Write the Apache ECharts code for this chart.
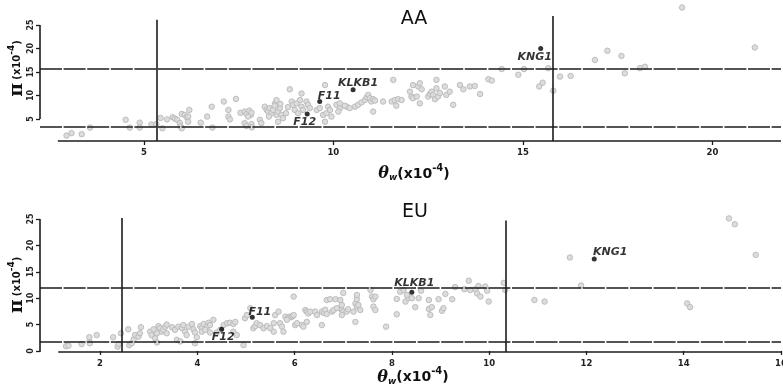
<!DOCTYPE html>
<html>
<head>
<meta charset="utf-8">
<script src="https://cdn.jsdelivr.net/npm/echarts@6/dist/echarts.min.js"></script>
<style>
  html, body { margin: 0; padding: 0; background: #fff; }
  #chart { width: 783px; height: 386px; }
</style>
</head>
<body>
<div id="chart"></div>
<script>
// AA: [theta_w, pi] (x10^-4) for background genes
const aaPoints = [
  [2.96,1.45],[3.09,1.96],[3.36,1.74],[3.58,3.15],[4.52,4.8],[4.63,3.15],[4.89,4.2],[4.89,3.15],
  [5.2,3.8],[5.33,3.9],[5.44,5.2],[5.49,3.0],[5.61,4.9],[5.76,5.36],[5.82,5.06],[5.88,4.8],
  [5.95,4.1],[5.97,3.4],[6.0,3.0],[6.0,6.06],[6.08,5.85],[6.13,5.36],[6.17,5.5],[6.17,4.4],
  [6.2,6.9],[6.5,4.2],[6.67,5.5],[6.79,7.6],[6.81,3.15],[7.11,8.7],[7.23,6.9],[7.23,5.5],
  [7.27,4.9],[7.43,9.25],[7.55,6.3],[7.66,6.55],[7.71,6.06],[7.78,6.77],[7.82,5.85],[7.84,6.3],
  [7.75,5.5],[7.66,4.1],[7.71,3.5],[7.84,3.9],[7.85,3.2],
  [8.06,4.8],[8.1,4.1],[8.19,7.6],[8.24,6.9],[8.28,6.55],[8.32,7.3],[8.37,6.2],[8.41,6.9],
  [8.46,8.3],[8.5,9.0],[8.5,5.85],[8.54,6.55],[8.59,7.3],[8.63,5.85],[8.67,5.15],[8.54,4.4],
  [8.3,5.5],[8.45,7.8],[8.6,8.2],[8.75,6.2],[8.8,7.5],
  [8.85,11.3],[8.9,8.7],[8.94,8.0],[8.98,6.9],[9.03,8.3],[9.12,9.0],[9.16,7.6],[9.2,6.9],
  [9.07,6.2],[9.16,10.4],[9.29,8.7],[9.33,8.0],[9.38,7.3],[9.56,6.9],[9.64,7.3],[9.78,12.2],
  [9.73,5.85],[9.82,6.2],[9.86,7.6],[9.91,6.9],[9.95,5.5],[9.78,4.4],[10.08,8.0],[10.17,7.3],
  [10.13,6.55],[10.35,7.6],
  [10.17,8.3],[10.3,7.8],[10.43,7.3],[10.57,7.6],[10.65,8.0],[10.74,8.5],[10.83,9.0],[10.88,9.6],
  [10.92,10.1],[10.96,9.4],[11.0,8.7],[11.05,9.2],[11.1,8.9],[11.05,6.55],[11.31,8.7],[11.58,13.3],
  [11.54,8.7],[11.62,9.0],[11.71,9.2],[11.8,9.0],[11.66,7.8],[12.02,10.8],[12.1,12.2],[12.24,11.9],
  [12.28,12.6],[12.33,11.3],[12.06,9.75],[12.1,9.4],[12.2,9.75],[12.28,8.3],[12.5,9.75],[12.55,10.3],
  [12.59,10.8],[12.63,10.1],[12.68,9.2],[12.72,13.3],[12.72,11.5],[12.76,9.75],[12.81,10.5],[12.94,11.9],
  [12.98,10.1],[13.07,10.8],[13.16,8.0],[13.34,12.2],[13.43,11.3],[13.6,11.9],[13.73,12.0],[13.87,10.3],
  [14.09,13.45],[14.18,13.15],[14.44,15.6],[14.88,14.4],
  [15.03,15.6],[15.43,11.9],[15.52,12.7],[15.67,15.8],[15.8,11.0],[15.98,14.0],[16.26,14.15],
  [16.9,17.55],[17.23,19.5],[17.6,18.4],[17.69,14.7],[18.09,15.8],[18.22,16.1],[19.2,28.7],[21.12,20.2]
];

// EU: [theta_w, pi] (x10^-4) for background genes
const euPoints = [
  [1.3,0.9],[1.35,1.0],[1.62,1.3],[1.78,1.8],[1.78,2.6],[1.79,1.45],[1.93,3.0],[2.27,2.6],
  [2.36,0.8],[2.38,1.3],[2.43,3.35],[2.58,4.1],[2.6,1.1],[2.65,1.45],[2.69,2.2],[2.72,3.0],
  [2.84,4.5],[2.79,2.7],[2.82,3.35],[3.03,3.65],[3.06,3.0],[3.1,4.1],[3.13,2.4],[3.17,3.35],
  [3.17,1.6],[3.2,4.7],[3.23,4.3],[3.27,3.65],[3.3,4.0],[3.34,4.6],[3.37,5.0],[3.37,3.35],
  [3.48,4.5],[3.54,4.0],[3.61,4.6],[3.58,2.1],[3.65,1.8],[3.68,4.35],[3.71,4.9],[3.75,3.65],
  [3.78,3.0],[3.82,4.6],[3.89,5.1],[3.92,4.1],[3.95,3.5],[3.99,2.6],[3.95,1.45],[4.06,4.7],
  [4.09,4.3],[4.13,5.1],[4.2,4.6],[4.23,5.35],[4.26,4.9],[4.33,5.9],[4.09,3.65],[4.16,4.0],
  [4.26,3.5],[4.4,3.5],[4.47,4.0],[4.54,4.9],[4.61,5.25],[4.67,5.35],[4.74,5.1],[4.78,5.5],
  [4.74,3.65],[4.81,3.0],[4.95,1.1],[4.98,6.2],[5.02,6.8],[5.09,8.1],[5.15,4.3],[5.19,4.7],
  [5.22,5.25],
  [5.29,4.9],[5.36,4.3],[5.43,4.7],[5.5,4.3],[5.57,5.25],[5.57,3.65],[5.6,6.8],[5.67,7.45],
  [5.7,5.25],[5.74,4.6],[5.77,3.65],[5.81,6.5],[5.86,6.2],[5.9,6.5],[5.93,6.4],[5.96,6.6],
  [5.98,6.8],[5.84,5.9],[5.98,10.3],[6.01,4.9],[6.05,5.25],[6.15,4.9],[6.18,4.6],[6.25,5.5],
  [6.22,7.75],[6.25,7.45],[6.28,7.1],[6.32,7.45],[6.42,7.45],[6.46,6.8],[6.56,4.9],[6.56,7.45],
  [6.6,7.2],[6.63,7.8],[6.66,7.0],[6.66,9.65],[6.73,9.8],[6.84,9.8],[6.94,9.65],[6.77,7.45],
  [6.8,7.75],[6.87,8.1],[6.97,7.75],[7.0,7.45],[6.97,6.8],[7.07,7.45],[7.1,7.9],[7.21,7.45],
  [6.97,8.7],[7.0,11.0],[7.25,9.0],[7.28,8.4],[7.31,8.7],[7.28,9.8],[7.35,7.75],[7.25,5.5],
  [7.28,10.6],[7.56,11.55],[7.59,10.3],[7.62,9.8],[7.66,10.3],[7.62,8.4],[7.66,7.75],[7.88,4.6],
  [8.1,9.85],[8.1,6.95],[8.17,11.2],[8.24,11.55],[8.28,9.35],[8.34,10.0],[8.31,10.6],[8.41,10.0],
  [8.48,8.3],[8.55,10.0],[8.6,11.4],[8.76,9.65],[8.76,7.95],[8.82,8.3],[8.79,6.8],[8.96,9.8],
  [9.03,7.6],[9.06,8.1],[9.1,10.8],[9.24,9.8],[9.3,12.1],[9.49,11.7],[9.58,13.3],[9.61,11.55],
  [9.72,11.7],[9.75,10.9],[9.78,12.3],[9.82,10.3],[9.92,12.2],[9.96,11.4],[9.99,9.35],[10.3,12.9],
  [10.33,11.55],
  [10.93,9.65],[11.14,9.35],[11.66,17.7],[11.89,12.4],[14.07,9.0],[14.13,8.3],[14.93,25.1],
  [15.05,24.0],[15.48,18.2]
];

// highlighted genes
const geneNames = ['F11', 'F12', 'KLKB1', 'KNG1'];
const aaGeneTheta = [9.64, 9.31, 10.52, 15.47];
const aaGenePi = [8.7, 6.06, 11.2, 20.0];
const euGeneTheta = [5.13, 4.5, 8.41, 12.16];
const euGenePi = [6.4, 4.1, 11.1, 17.4];

// cut-off lines
const aaThetaCut = [5.34, 15.8];
const aaThetaCutTop = [26.1, 26.9];
const aaPiCut = [3.3, 15.6];
const euThetaCut = [2.45, 10.35];
const euThetaCutTop = [25.2, 24.7];
const euPiCut = [1.8, 12.0];

// tick values
const aaXTicks = [5, 10, 15, 20];
const aaYTicks = [5, 10, 15, 20, 25];
const euXTicks = [2, 4, 6, 8, 10, 12, 14, 16];
const euYTicks = [0, 5, 10, 15, 20, 25];

const LINE = '#1c1c1c';
const FONT = 'DejaVu Sans';

// label placement around the black gene dots
const aaLabelOffset = [[9.5, -5.7], [-2.5, 8.5], [5, -7], [-6, 9]];
const euLabelOffset = [[7.5, -5.5], [1.5, 8], [2.5, -9], [16, -7]];

const panels = [
  {
    grid: { left: 40, top: 1.4, width: 741, height: 139.6 },
    xMin: 2.26, xMax: 21.81, yMin: 0.3, yMax: 30,
    xSpineFrom: 2.73, ySpine: [5, 25],
    xTicks: aaXTicks, yTicks: aaYTicks,
    points: aaPoints, geneTheta: aaGeneTheta, genePi: aaGenePi, offsets: aaLabelOffset,
    thetaCut: aaThetaCut, thetaCutTop: aaThetaCutTop, piCut: aaPiCut
  },
  {
    grid: { left: 40, top: 213.7, width: 741, height: 138.3 },
    xMin: 0.765, xMax: 16.0, yMin: -0.2, yMax: 26,
    xSpineFrom: 1.14, ySpine: [-0.2, 25],
    xTicks: euXTicks, yTicks: euYTicks,
    points: euPoints, geneTheta: euGeneTheta, genePi: euGenePi, offsets: euLabelOffset,
    thetaCut: euThetaCut, thetaCutTop: euThetaCutTop, piCut: euPiCut
  }
];

const tickLabel = { fontFamily: FONT, fontWeight: 'bold', fontSize: 8.5, color: '#222' };

const grids = [], xAxes = [], yAxes = [], series = [];

panels.forEach((p, g) => {
  grids.push(Object.assign({ containLabel: false, outerBoundsMode: 'none' }, p.grid));

  xAxes.push({
    gridIndex: g, type: 'value', min: p.xMin, max: p.xMax,
    axisLine: { show: false }, splitLine: { show: false },
    axisTick: { show: true, customValues: p.xTicks, length: 4, lineStyle: { color: LINE, width: 1.3 } },
    axisLabel: Object.assign({ customValues: p.xTicks, margin: 7 }, tickLabel)
  });
  yAxes.push({
    gridIndex: g, type: 'value', min: p.yMin, max: p.yMax,
    axisLine: { show: false }, splitLine: { show: false },
    axisTick: { show: true, customValues: p.yTicks, length: 4, lineStyle: { color: LINE, width: 1.3 } },
    axisLabel: Object.assign({ customValues: p.yTicks, margin: 5, rotate: 90 }, tickLabel, { fontSize: 8 })
  });

  const solid = { color: LINE, width: 1.6, type: 'solid' };
  const dashed = { color: LINE, width: 1.6, type: [22, 1.6] };
  const lines = [
    [{ coord: [p.xSpineFrom, p.yMin], lineStyle: solid }, { coord: [p.xMax, p.yMin] }],
    [{ coord: [p.xMin, p.ySpine[0]], lineStyle: solid }, { coord: [p.xMin, p.ySpine[1]] }]
  ];
  p.piCut.forEach(v => lines.push([{ coord: [p.xMin, v], lineStyle: dashed }, { coord: [p.xMax, v] }]));
  p.thetaCut.forEach((v, i) => lines.push([{ coord: [v, p.yMin], lineStyle: solid }, { coord: [v, p.thetaCutTop[i]] }]));

  series.push({
    type: 'scatter', xAxisIndex: g, yAxisIndex: g,
    data: p.points, symbol: 'circle', symbolSize: 5.5, silent: true, z: 2,
    itemStyle: { color: '#dcdcdc', borderColor: '#b8b8b8', borderWidth: 0.9, opacity: 1 },
    markLine: {
      silent: true, symbol: ['none', 'none'], label: { show: false },
      emphasis: { disabled: true }, lineStyle: solid, data: lines
    }
  });

  series.push({
    type: 'scatter', xAxisIndex: g, yAxisIndex: g, silent: true, z: 5,
    symbol: 'circle', symbolSize: 5,
    itemStyle: { color: '#000' },
    label: {
      show: true, position: 'inside', formatter: '{b}',
      fontFamily: FONT, fontWeight: 'bold', fontStyle: 'italic', fontSize: 11,
      color: '#000', textBorderWidth: 0
    },
    data: geneNames.map((n, i) => ({
      name: n, value: [p.geneTheta[i], p.genePi[i]],
      label: { offset: p.offsets[i] }
    }))
  });
});

const xNameRich = {
  t: { fontFamily: 'DejaVu Serif', fontStyle: 'italic', fontWeight: 'bold', fontSize: 16, fill: '#111', verticalAlign: 'middle' },
  w: { fontFamily: FONT, fontStyle: 'italic', fontWeight: 'bold', fontSize: 9, fill: '#111', verticalAlign: 'middle', padding: [8, 0, 0, 0] },
  s: { fontFamily: FONT, fontWeight: 'bold', fontSize: 14, fill: '#111', verticalAlign: 'middle' },
  p: { fontFamily: FONT, fontWeight: 'bold', fontSize: 10, fill: '#111', verticalAlign: 'top', padding: [0, 0, 12, 0] }
};
const yNameRich = {
  pi: { fontFamily: 'DejaVu Serif', fontWeight: 'bold', fontSize: 19, fill: '#111', verticalAlign: 'middle' },
  s: { fontFamily: FONT, fontWeight: 'bold', fontSize: 10, fill: '#111', verticalAlign: 'middle' },
  p: { fontFamily: FONT, fontWeight: 'bold', fontSize: 9, fill: '#111', verticalAlign: 'top' }
};
function xName(x, y) {
  return { type: 'text', x: x, y: y, silent: true,
    style: { text: '{t|θ}{w|w}{s|(x10}{p|-4}{s|)}', rich: xNameRich, align: 'center', verticalAlign: 'middle' } };
}
function yName(x, y) {
  return { type: 'text', x: x, y: y, rotation: Math.PI / 2, silent: true,
    style: { text: '{pi|π} {s|(x10}{p|-4}{s|)}', rich: yNameRich, align: 'center', verticalAlign: 'middle' } };
}
function title(t, x, y) {
  return { type: 'text', x: x, y: y, silent: true,
    style: { text: t, font: '19px "DejaVu Sans"', fill: '#111', align: 'center', verticalAlign: 'middle' } };
}

const chart = echarts.init(document.getElementById('chart'), null, { renderer: 'canvas' });
chart.setOption({
  animation: false,
  backgroundColor: '#fff',
  textStyle: { fontFamily: FONT },
  grid: grids,
  xAxis: xAxes,
  yAxis: yAxes,
  series: series,
  graphic: [
    title('AA', 414, 19), title('EU', 415, 212),
    xName(414, 174), xName(413, 377.5),
    yName(17, 68.5), yName(17, 285)
  ]
});
</script>
</body>
</html>
